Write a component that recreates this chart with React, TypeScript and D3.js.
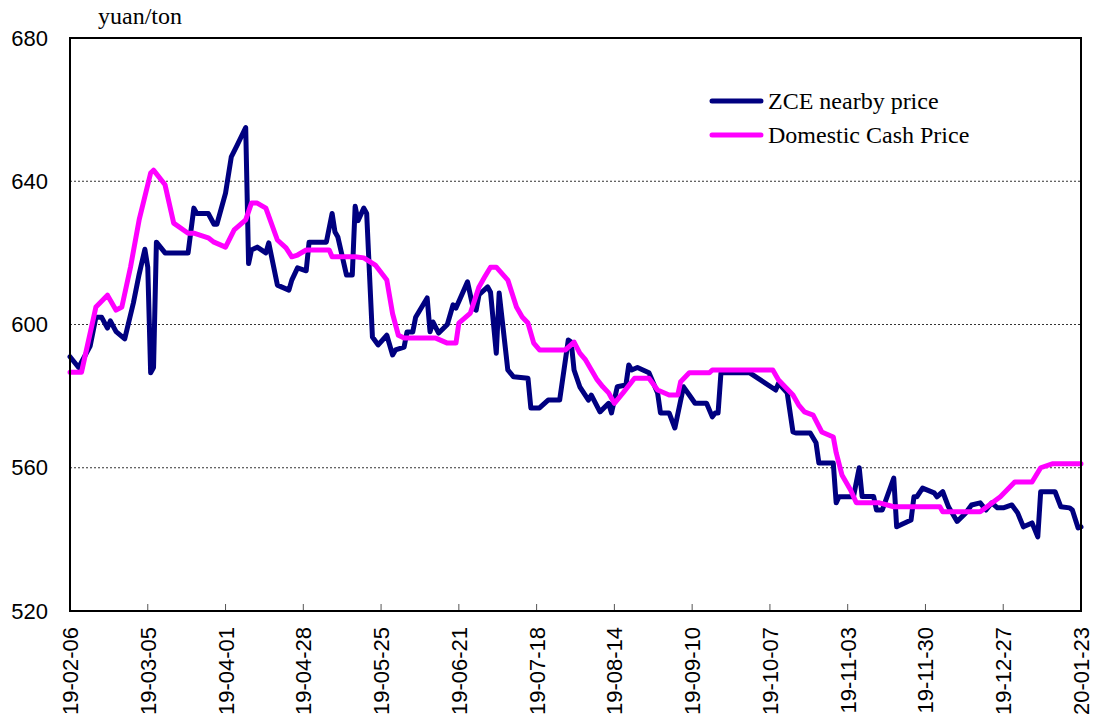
import React from "react";
import * as d3 from "d3";

const zceDates = ["2019-02-06","2019-02-09","2019-02-13","2019-02-15","2019-02-17","2019-02-19","2019-02-20","2019-02-22","2019-02-25","2019-02-28","2019-03-02","2019-03-04","2019-03-05","2019-03-06","2019-03-07","2019-03-08","2019-03-11","2019-03-19","2019-03-21","2019-03-22","2019-03-26","2019-03-28","2019-03-29","2019-04-01","2019-04-03","2019-04-05","2019-04-08","2019-04-09","2019-04-10","2019-04-12","2019-04-15","2019-04-16","2019-04-19","2019-04-23","2019-04-24","2019-04-26","2019-04-29","2019-04-30","2019-05-06","2019-05-08","2019-05-09","2019-05-10","2019-05-13","2019-05-15","2019-05-16","2019-05-17","2019-05-19","2019-05-20","2019-05-22","2019-05-24","2019-05-27","2019-05-29","2019-05-30","2019-06-02","2019-06-03","2019-06-05","2019-06-06","2019-06-10","2019-06-11","2019-06-12","2019-06-14","2019-06-17","2019-06-19","2019-06-20","2019-06-24","2019-06-26","2019-06-27","2019-06-28","2019-07-01","2019-07-02","2019-07-04","2019-07-05","2019-07-08","2019-07-10","2019-07-15","2019-07-16","2019-07-19","2019-07-22","2019-07-26","2019-07-29","2019-07-30","2019-07-31","2019-08-02","2019-08-05","2019-08-06","2019-08-09","2019-08-12","2019-08-13","2019-08-15","2019-08-18","2019-08-19","2019-08-20","2019-08-22","2019-08-26","2019-08-29","2019-08-30","2019-09-02","2019-09-04","2019-09-07","2019-09-09","2019-09-11","2019-09-15","2019-09-17","2019-09-18","2019-09-19","2019-09-20","2019-09-30","2019-10-09","2019-10-10","2019-10-13","2019-10-15","2019-10-16","2019-10-21","2019-10-23","2019-10-24","2019-10-29","2019-10-30","2019-10-31","2019-11-05","2019-11-07","2019-11-08","2019-11-12","2019-11-13","2019-11-15","2019-11-19","2019-11-20","2019-11-25","2019-11-26","2019-11-27","2019-11-29","2019-12-03","2019-12-04","2019-12-06","2019-12-08","2019-12-11","2019-12-14","2019-12-16","2019-12-19","2019-12-21","2019-12-23","2019-12-25","2019-12-27","2019-12-30","2020-01-01","2020-01-03","2020-01-06","2020-01-08","2020-01-09","2020-01-14","2020-01-16","2020-01-19","2020-01-20","2020-01-22","2020-01-23"];
const zceValues = [591,588,594,602,602,599,601,598,596,606,614,621,616,586.5,588,623,620,620,632.5,631,631,628,628,636.7,646.8,650,655,617,620.8,621.6,620,622.8,611,609.6,612.4,615.8,615,623,623,631,625.8,624.4,613.8,613.8,633,629,632.5,631,596.5,594.3,597,591.5,592.9,593.7,597.9,597.9,602,607.4,598,600.7,597.6,600,605.5,604.6,611.9,604.5,604,608.3,610.5,609,592,608.8,587.3,585.4,585,576.7,576.7,578.9,578.9,595.7,595.1,587.3,582.6,578.9,580.3,575.6,578,575.3,582.6,583.1,588.7,587.3,588,586.5,580.9,575.3,575.3,571.1,582.6,580.3,578,578,574.2,575.3,575.3,586.5,586.5,581.7,583.6,580.9,570,569.7,569.7,567,561.3,561.3,550.2,551.9,551.9,560,552,552,548.2,548.2,557.1,543.5,545.4,551.9,551.9,554.3,553,551.9,553.3,549.1,545,547.4,549.6,550.2,548.2,550.2,548.8,548.8,549.6,547.4,543.5,544.6,540.7,553.3,553.3,549.1,548.8,548.2,543.2,543.5];

const cashDates = ["2019-02-06","2019-02-10","2019-02-15","2019-02-19","2019-02-22","2019-02-24","2019-02-27","2019-03-02","2019-03-06","2019-03-07","2019-03-11","2019-03-14","2019-03-19","2019-03-21","2019-03-26","2019-03-28","2019-04-01","2019-04-04","2019-04-08","2019-04-10","2019-04-12","2019-04-15","2019-04-19","2019-04-22","2019-04-24","2019-04-26","2019-04-29","2019-05-07","2019-05-08","2019-05-16","2019-05-19","2019-05-23","2019-05-27","2019-05-29","2019-05-31","2019-06-02","2019-06-13","2019-06-17","2019-06-20","2019-06-21","2019-06-25","2019-06-28","2019-06-30","2019-07-02","2019-07-04","2019-07-08","2019-07-11","2019-07-13","2019-07-15","2019-07-17","2019-07-19","2019-07-28","2019-07-31","2019-08-02","2019-08-04","2019-08-08","2019-08-10","2019-08-12","2019-08-14","2019-08-17","2019-08-21","2019-08-26","2019-08-29","2019-09-02","2019-09-05","2019-09-06","2019-09-09","2019-09-16","2019-09-17","2019-10-08","2019-10-10","2019-10-15","2019-10-17","2019-10-19","2019-10-22","2019-10-25","2019-10-29","2019-10-30","2019-11-01","2019-11-04","2019-11-06","2019-11-14","2019-11-19","2019-12-05","2019-12-06","2019-12-19","2019-12-26","2019-12-31","2020-01-06","2020-01-09","2020-01-13","2020-01-23"];
const cashValues = [586.7,586.7,604.9,608.2,604,604.9,616,629.2,642.3,643.1,639,628.3,625.5,625.5,624.2,623,621.6,626.4,629.2,633.9,633.9,632.5,623.6,621.4,618.9,619.4,620.8,620.8,618.9,618.9,618.6,616.6,612.4,603,597,596.2,596.2,594.8,594.8,600.4,603.2,610.5,613.3,616,616,612.4,604.9,602.1,600.4,594.8,592.9,592.9,595.1,592,590.1,584.6,582.6,580.9,578,580.9,585,585,581.7,580.3,580.3,584,586.5,586.5,587.3,587.3,584.5,580.3,577.5,575.6,574.7,570,568.6,564.2,558,553.8,550.2,550.2,549.1,549.1,547.7,547.7,551.9,556,556,560,561.1,561.1];

const xTickLabels = ["19-02-06","19-03-05","19-04-01","19-04-28","19-05-25","19-06-21","19-07-18","19-08-14","19-09-10","19-10-07","19-11-03","19-11-30","19-12-27","20-01-23"];
const yTicks = [520, 560, 600, 640, 680];
const seriesNames = ["ZCE nearby price", "Domestic Cash Price"];
const unitLabel = "yuan/ton";

const W = 1100, H = 726;
const left = 70, right = 1081, top = 38, bottom = 611;

export default function App() {
  const parse = d3.utcParse("%Y-%m-%d");
  const parseTick = d3.utcParse("%y-%m-%d");
  const x = d3.scaleUtc()
    .domain([parse("2019-02-06")!, parse("2020-01-23")!])
    .range([left, right]);
  const y = d3.scaleLinear().domain([520, 680]).range([bottom, top]);

  const zce = zceDates.map((d, i) => ({ d: parse(d)!, v: zceValues[i] }));
  const cash = cashDates.map((d, i) => ({ d: parse(d)!, v: cashValues[i] }));
  const line = d3.line<{ d: Date; v: number }>().x(p => x(p.d)).y(p => y(p.v));

  const colors = ["#000080", "#FF00FF"];
  const serif = "'Liberation Serif', 'Times New Roman', serif";
  const sans = "'Liberation Sans', Arial, sans-serif";

  return (
    <svg width={W} height={H} style={{ position: "absolute", left: 0, top: 0, background: "#fff" }}>
      <rect x={0} y={0} width={W} height={H} fill="#fff" />
      {yTicks.filter(t => t !== 520 && t !== 680).map(t => (
        <line key={t} x1={left} x2={right} y1={y(t)} y2={y(t)} stroke="#333" strokeWidth={1} strokeDasharray="2,2" />
      ))}
      {xTickLabels.map((lab, i) => {
        const tx = x(parseTick(lab)!);
        return (
          <g key={lab}>
            {i > 0 && i < xTickLabels.length - 1 && (
              <line x1={tx} x2={tx} y1={bottom} y2={bottom - 7} stroke="#555" strokeWidth={1} />
            )}
            <text
              transform={`translate(${tx + 8},${bottom + 16}) rotate(-90)`}
              textAnchor="end"
              fontFamily={sans}
              fontSize={22}
            >{lab}</text>
          </g>
        );
      })}
      {yTicks.map(t => (
        <text key={t} x={48} y={y(t)} dy="0.35em" textAnchor="end" fontFamily={sans} fontSize={22}>{t}</text>
      ))}
      <text x={98} y={24} fontFamily={serif} fontSize={24}>{unitLabel}</text>
      <path d={line(zce)!} fill="none" stroke={colors[0]} strokeWidth={5} strokeLinejoin="round" strokeLinecap="round" />
      <path d={line(cash)!} fill="none" stroke={colors[1]} strokeWidth={5} strokeLinejoin="round" strokeLinecap="round" />
      <rect x={left} y={top} width={right - left} height={bottom - top} fill="none" stroke="#000" strokeWidth={2} />
      {seriesNames.map((n, i) => (
        <g key={n}>
          <line x1={712} x2={761} y1={101 + i * 34} y2={101 + i * 34} stroke={colors[i]} strokeWidth={5} strokeLinecap="round" />
          <text x={768} y={109 + i * 34} fontFamily={serif} fontSize={24}>{n}</text>
        </g>
      ))}
    </svg>
  );
}
